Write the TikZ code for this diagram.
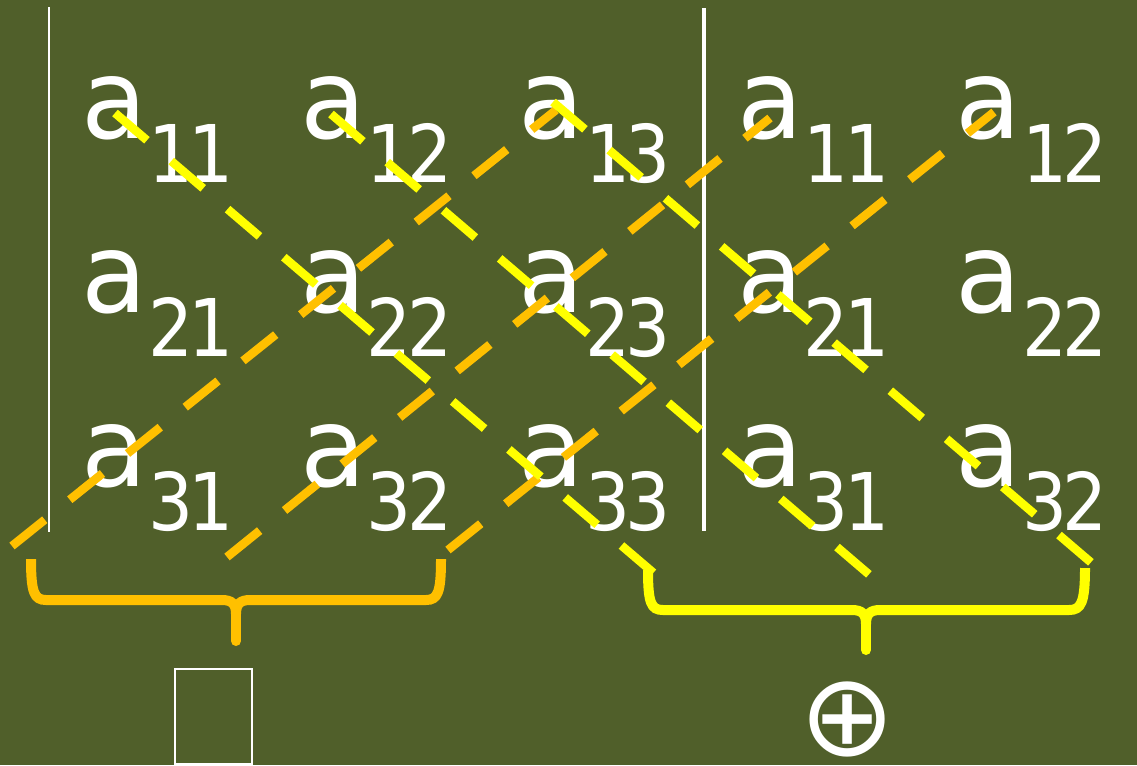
\documentclass[tikz,border=0pt]{standalone}
\usepackage{fontspec}
\newfontfamily\letfont[FakeStretch=0.97]{DejaVu Sans}
\newfontfamily\subfont[FakeStretch=0.89]{DejaVu Sans}
\newfontfamily\symfont{DejaVu Sans}
\definecolor{bg}{RGB}{80,95,42}
\definecolor{dyel}{RGB}{255,255,0}
\definecolor{dorg}{RGB}{255,192,0}
\newcommand{\sdig}[2]{#1\kern-3.4pt#2}
\begin{document}
\begin{tikzpicture}[x=0.75pt,y=-0.75pt,
  letter/.style={anchor=base west,inner sep=0pt,outer sep=0pt,text=white,font=\letfont\fontsize{83}{83}\selectfont},
  subs/.style={anchor=base west,inner sep=0pt,outer sep=0pt,text=white,font=\subfont\fontsize{59.7}{59.7}\selectfont},
  ydash/.style={draw=dyel,line width=6.4pt,dash pattern=on 31.5pt off 24pt},
  odash/.style={draw=dorg,line width=6.4pt,dash pattern=on 31.5pt off 24pt},
  obrace/.style={draw=dorg,line width=7.5pt},
  ybrace/.style={draw=dyel,line width=7.5pt},
  bar/.style={draw=white}
  ]
\useasboundingbox (0,0) rectangle (1137,765);
\fill[bg] (0,0) rectangle (1137,765);
% vertical bars
\coordinate (l1t) at (49,7);  \coordinate (l1b) at (49,532);
\coordinate (l2t) at (704,8); \coordinate (l2b) at (704,531);
\draw[bar,line width=1.6pt] (l1t) -- (l1b);
\draw[bar,line width=3.6pt] (l2t) -- (l2b);
% entries
\foreach \col/\row/\i/\j in {1/1/1/1,2/1/1/2,3/1/1/3,4/1/1/1,5/1/1/2,
  1/2/2/1,2/2/2/2,3/2/2/3,4/2/2/1,5/2/2/2,
  1/3/3/1,2/3/3/2,3/3/3/3,4/3/3/1,5/3/3/2}{
  \pgfmathsetmacro\xa{81.7+(\col-1)*218.5}
  \pgfmathsetmacro\ya{138.5+(\row-1)*173.9}
  \node[letter] (a\col\row) at (\xa,\ya) {a};
  \node[subs] (s\col\row) at (\xa+66.3,\ya+43.8) {\sdig{\i}{\j}};
}
% orange diagonals
\coordinate (o1s) at (12,546);  \coordinate (o1e) at (556,110);
\coordinate (o2s) at (227,557); \coordinate (o2e) at (770,118);
\coordinate (o3s) at (448,550); \coordinate (o3e) at (994,112);
\draw[odash] (o1s) -- (o1e);
\draw[odash] (o2s) -- (o2e);
\draw[odash] (o3s) -- (o3e);
% yellow diagonals
\coordinate (y1s) at (115,113); \coordinate (y1e) at (656,575);
\coordinate (y2s) at (331,114); \coordinate (y2e) at (872,577);
\coordinate (y3s) at (553,102); \coordinate (y3e) at (1094,565);
\draw[ydash] (y1s) -- (y1e);
\draw[ydash] (y2s) -- (y2e);
\draw[ydash] (y3s) -- (y3e);
% orange brace
\draw[obrace] (31,559) .. controls (31,592) and (34,600) .. (46,600) -- (222,600)
  .. controls (232,600) and (236,604) .. (236,614);
\draw[obrace] (441,559) .. controls (441,592) and (438,600) .. (426,600) -- (250,600)
  .. controls (240,600) and (236,604) .. (236,614);
\draw[obrace,line cap=round] (236,610) -- (236,641);
% yellow brace
\draw[ybrace] (648,570) .. controls (648,603) and (651,610) .. (663,610) -- (852,610)
  .. controls (862,610) and (866,614) .. (866,624);
\draw[ybrace] (1085,568) .. controls (1085,603) and (1081,610) .. (1069,610) -- (880,610)
  .. controls (870,610) and (866,614) .. (866,624);
\draw[ybrace,line cap=round] (866,620) -- (866,650);
% results
\node[draw=white,line width=1.5pt,minimum width=57.75pt,minimum height=71.25pt,inner sep=0pt] (box) at (213.5,716.5) {};
\node[text=white,inner sep=0pt,font=\symfont\fontsize{86}{86}\selectfont] (oplus) at (848,719) {⊕};
\end{tikzpicture}
\end{document}
